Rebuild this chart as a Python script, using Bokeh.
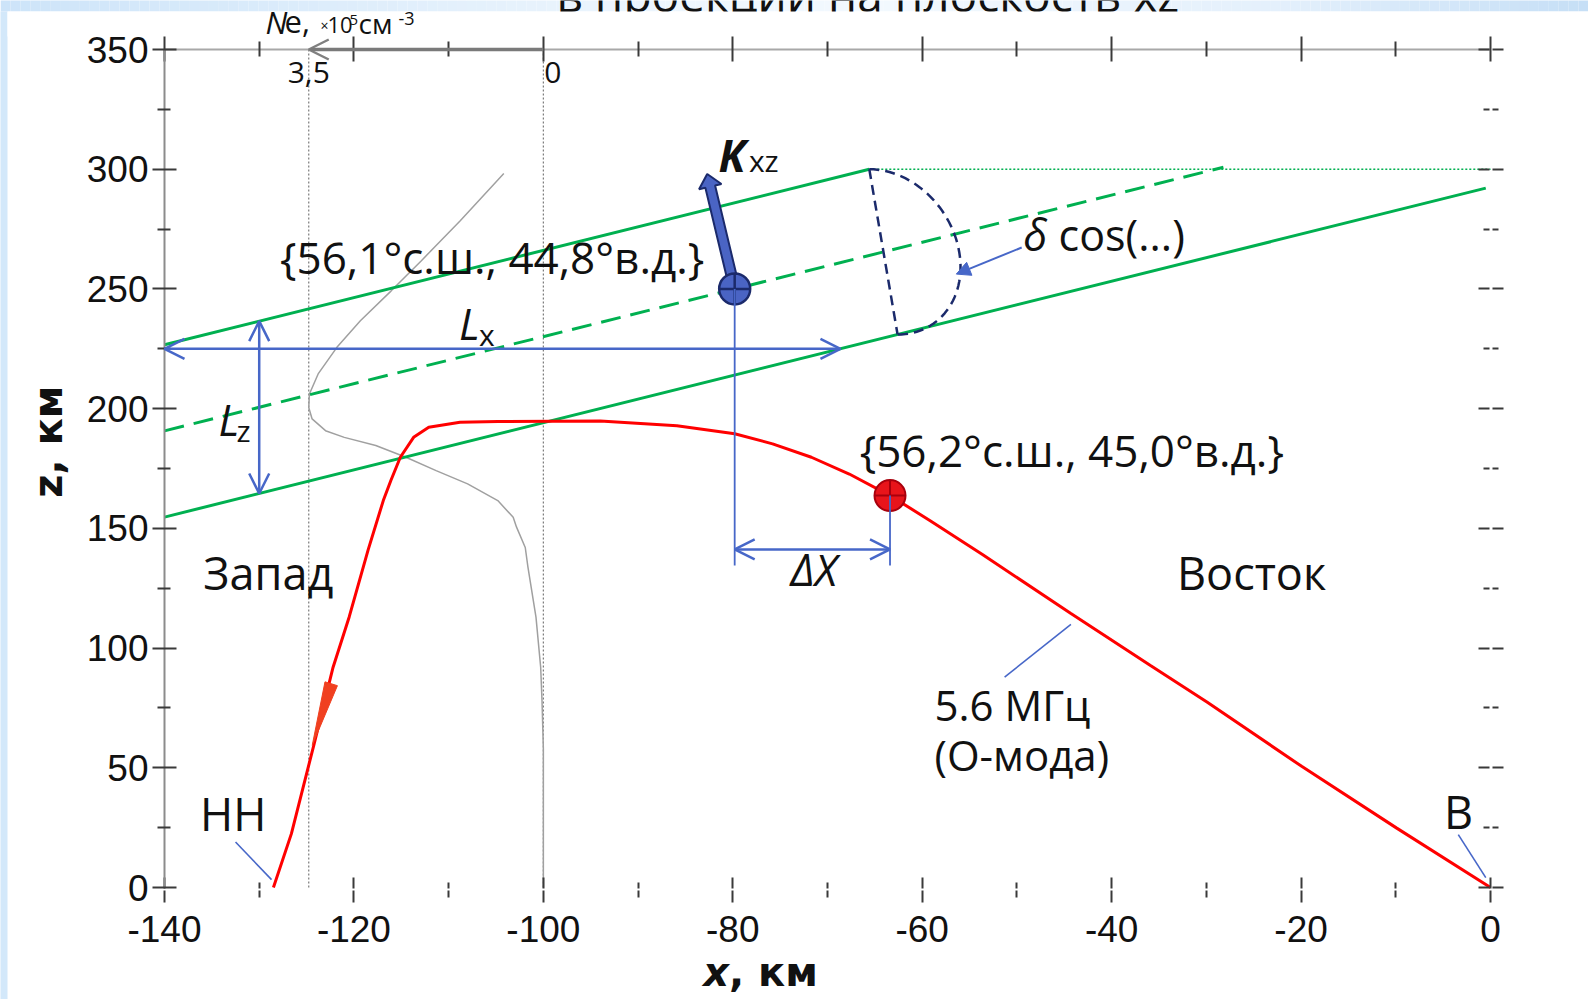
import math
from bokeh.plotting import figure
from bokeh.models import Range1d, LinearAxis, FixedTicker, Label, Arrow, OpenHead, NormalHead
from bokeh.embed import file_html
from bokeh.resources import INLINE

# ---------------- data ----------------
x_major = [-140, -120, -100, -80, -60, -40, -20, 0]
x_minor = [-130, -110, -90, -70, -50, -30, -10]
z_major = [0, 50, 100, 150, 200, 250, 300, 350]
z_minor = [25, 75, 125, 175, 225, 275, 325]
x_tick_text = {t: str(t) for t in x_major}

# ray trajectory, 5.6 MHz O-mode (x, z in km)
ray_x = [-128.5, -126.6, -124.2, -122.2, -120.5, -118.5, -116.9, -116.1, -115.1,
         -113.7, -112.1, -108.8, -104.8, -94.0, -85.9, -79.8, -75.8, -71.7,
         -67.7, -63.4, -59.2, -53.6, -44.3, -35.9, -29.9, -19.9, -9.9, 0.0]
ray_z = [0.0, 22.5, 60.0, 92.0, 113.0, 141.0, 161.6, 170.0, 179.7,
         188.0, 192.2, 194.3, 194.6, 194.8, 192.9, 189.5, 185.3, 179.7,
         172.7, 163.7, 153.3, 139.0, 114.4, 92.7, 77.4, 50.5, 24.8, 0.0]

# electron density profile: height (km) and Ne (x1e5 cm^-3)
ne_z = [298.2, 278.5, 261.8, 249.2, 236.7, 225.6, 214.5, 206.1, 200.5, 195.7,
        190.8, 188.0, 184.6, 179.7, 174.1, 168.6, 161.6, 154.6, 150.5, 142.0,
        133.8, 112.9, 92.0, 78.0, 58.0, 0.0]
ne_val = [0.59, 1.24, 1.82, 2.27, 2.73, 3.08, 3.36, 3.49, 3.50, 3.45,
          3.25, 2.97, 2.50, 2.05, 1.60, 1.13, 0.68, 0.45, 0.40, 0.27,
          0.23, 0.11, 0.04, 0.02, 0.0, 0.0]
ne_max = 3.5
ne_x_max = -124.77   # km position of Ne = 3.5
ne_x_zero = -100.0   # km position of Ne = 0

# tilted irregularity layer
point_a = (-79.8, 250.0)   # {56,1 N, 44,8 E}
point_b = (-63.4, 163.7)   # {56,2 N, 45,0 E}
layer_slope = 0.985
layer_half = 36.0
layer_top = 300.0
mid_end_x = -28.2
lower_end_x = -0.5
arc_foot_x = -62.6
arc_bulge = 8.0
kxz_tip = (-82.7, 298.0)

lx_z = 225.0
lz_x = -130.0
dx_z = 141.2
dx_drop = 134.5

ray_arrow_tip = (-124.4, 59.4)
ray_arrow_base = (-122.4, 85.1)

# ---------------- canvas geometry ----------------
W, H = 1588, 999
X0_PX, X1_PX = 164.0, 1490.0    # pixel columns of x = -140 and x = 0
Z0_PX, Z1_PX = 887.0, 49.0      # pixel rows of z = 0 and z = 350
SX = (X1_PX - X0_PX) / 140.0
SY = (Z0_PX - Z1_PX) / 350.0
XS = -140.0 - X0_PX / SX
XE = 0.0 + (W - X1_PX) / SX
YS = -(H - Z0_PX) / SY
YE = 350.0 + Z1_PX / SY
BAND_TOP = 11.0   # height of the slide band, px
BAND_LEFT = 7.0   # width of the slide band, px


def row_y(py):
    return YE - py / SY


def col_x(px):
    return XS + px / SX


def layer_z(x, off):
    return point_a[1] + off + layer_slope * (x - point_a[0])


def layer_x(z, off):
    return point_a[0] + (z - point_a[1] - off) / layer_slope


def arrow_poly(base, tip, shaft_hw, head_hw, head_len):
    bx, by = base[0] * SX, base[1] * SY
    tx, ty = tip[0] * SX, tip[1] * SY
    L = math.hypot(tx - bx, ty - by)
    ux, uy = (tx - bx) / L, (ty - by) / L
    nx, ny = -uy, ux
    hx, hy = tx - ux * head_len, ty - uy * head_len
    pts = [(bx + nx * shaft_hw, by + ny * shaft_hw), (hx + nx * shaft_hw, hy + ny * shaft_hw),
           (hx + nx * head_hw, hy + ny * head_hw), (tx, ty),
           (hx - nx * head_hw, hy - ny * head_hw), (hx - nx * shaft_hw, hy - ny * shaft_hw),
           (bx - nx * shaft_hw, by - ny * shaft_hw)]
    return [q[0] / SX for q in pts], [q[1] / SY for q in pts]


def triangle(tip, base, hw):
    tx, ty = tip[0] * SX, tip[1] * SY
    bx, by = base[0] * SX, base[1] * SY
    L = math.hypot(bx - tx, by - ty)
    nx, ny = -(by - ty) / L, (bx - tx) / L
    pts = [(tx, ty), (bx + nx * hw, by + ny * hw), (bx - nx * hw, by - ny * hw)]
    return [q[0] / SX for q in pts], [q[1] / SY for q in pts]


def mix(stops, t):
    for (t0, c0), (t1, c1) in zip(stops[:-1], stops[1:]):
        if t0 <= t <= t1:
            f = (t - t0) / (t1 - t0)
            return "#%02x%02x%02x" % tuple(int(round(c0[i] + (c1[i] - c0[i]) * f)) for i in range(3))
    return "#%02x%02x%02x" % stops[-1][1]


BLUE = "#4767c8"
NAVY = "#1b2a6b"
GREEN = "#00b050"
RED = "#ff0000"
INK = "#111111"
TICK = "#3a3a3a"
FONT = "Open Sans"

p = figure(width=W, height=H, x_range=Range1d(XS, XE), y_range=Range1d(YS, YE),
           output_backend="svg", toolbar_location=None, min_border=0)
p.title.visible = False
p.grid.visible = False
p.outline_line_color = None
p.background_fill_color = "white"
p.border_fill_color = "white"

# ---------------- slide bands ----------------
stops = [(0.0, (205, 228, 249)), (0.4, (236, 245, 253)), (0.55, (243, 249, 254)),
         (0.8, (228, 240, 252)), (1.0, (198, 223, 246))]
n = 160
edges = [XS + (XE - XS) * i / n for i in range(n + 1)]
p.quad(left=edges[:-1], right=edges[1:], top=YE + 1, bottom=row_y(BAND_TOP),
       fill_color=[mix(stops, (i + 0.5) / n) for i in range(n)], line_color=None, level="image")
p.quad(left=[XS - 1], right=[col_x(BAND_LEFT)], top=[row_y(BAND_TOP)], bottom=[YS - 1],
       fill_color="#d3e8fa", line_color=None, level="image")

# label helper: y is the wanted baseline, shifted for the renderer's baseline offset
BASE_SHIFT = 0.375


def label(x, y, text, size, style="normal", align="left", font=FONT, angle=0.0, level="annotation"):
    if angle == 0.0:
        y = y + BASE_SHIFT * size / SY
    else:
        x = x - BASE_SHIFT * size / SX
    p.add_layout(Label(x=x, y=y, text=text, text_font=font, text_font_size=f"{size}px",
                       text_font_style=style, text_align=align, text_baseline="alphabetic",
                       text_color=INK, angle=angle, level=level))


# slide heading, partly hidden under the chart panel
label(col_x(556), row_y(11), "в проекции на плоскость xz", 46, level="underlay")
p.quad(left=[col_x(BAND_LEFT)], right=[XE + 1], top=[row_y(BAND_TOP)], bottom=[row_y(36)],
       fill_color="white", line_color=None)

# ---------------- axes ----------------
xa = p.xaxis[0]
xa.fixed_location = 0
xa.bounds = (-140, 0)
xa.ticker = FixedTicker(ticks=x_major, minor_ticks=x_minor)
xa.major_label_overrides = x_tick_text
xa.axis_line_color = None
xa.major_tick_in, xa.major_tick_out = 10, 15
xa.minor_tick_in, xa.minor_tick_out = 5, 10
xa.major_tick_line_color = TICK
xa.minor_tick_line_color = TICK
xa.major_tick_line_width = 2
xa.minor_tick_line_width = 2
xa.major_tick_line_dash = "12 2"
xa.minor_tick_line_dash = "7 2"
xa.major_label_text_font = "Liberation Sans"
xa.major_label_text_font_size = "37px"
xa.major_label_text_color = INK
xa.major_label_standoff = 13

ya = p.yaxis[0]
ya.fixed_location = -140
ya.bounds = (0, 350)
ya.ticker = FixedTicker(ticks=z_major, minor_ticks=z_minor)
ya.axis_line_color = "#8c8c8c"
ya.axis_line_width = 2
ya.major_tick_in, ya.major_tick_out = 12, 12
ya.minor_tick_in, ya.minor_tick_out = 6, 7
ya.major_tick_line_color = TICK
ya.minor_tick_line_color = TICK
ya.major_tick_line_width = 2
ya.minor_tick_line_width = 2
ya.major_label_text_font = "Liberation Sans"
ya.major_label_text_font_size = "37px"
ya.major_label_text_color = INK
ya.major_label_standoff = 4

top_ax = LinearAxis(fixed_location=350, bounds=(-140, 0),
                    ticker=FixedTicker(ticks=x_major, minor_ticks=x_minor),
                    major_label_overrides={t: "" for t in x_major},
                    major_label_text_font_size="6px", major_label_standoff=0,
                    axis_line_color="#a8a8a8", axis_line_width=2,
                    major_tick_in=12, major_tick_out=13, minor_tick_in=7, minor_tick_out=8,
                    major_tick_line_color=TICK, minor_tick_line_color=TICK,
                    major_tick_line_width=2, minor_tick_line_width=2)
p.add_layout(top_ax, "above")

right_ax = LinearAxis(fixed_location=0, bounds=(0, 350),
                      ticker=FixedTicker(ticks=z_major, minor_ticks=z_minor),
                      major_label_overrides={t: "" for t in z_major},
                      major_label_text_font_size="6px", major_label_standoff=0,
                      axis_line_color=None,
                      major_tick_in=12, major_tick_out=13, minor_tick_in=7, minor_tick_out=8,
                      major_tick_line_color=TICK, minor_tick_line_color=TICK,
                      major_tick_line_width=2, minor_tick_line_width=2,
                      major_tick_line_dash="11 3", minor_tick_line_dash="6 3")
p.add_layout(right_ax, "right")

# ---------------- chart content ----------------
# dotted guides of the Ne scale
p.segment(x0=[ne_x_max, ne_x_zero], y0=[0, 0], x1=[ne_x_max, ne_x_zero], y1=[350, 350],
          line_color="#7a7a7a", line_width=1.2, line_dash="2 2")

# Ne profile drawn against the Ne scale of the top axis
ne_x = [ne_x_zero + (ne_x_max - ne_x_zero) * v / ne_max for v in ne_val]
p.line(ne_x, ne_z, line_color="#a0a0a0", line_width=1.5)

# layer boundaries
up_end = layer_x(layer_top, layer_half)
p.line([-140, up_end], [layer_z(-140, layer_half), layer_top], line_color=GREEN, line_width=3)
p.line([-140, mid_end_x], [layer_z(-140, 0.0), layer_z(mid_end_x, 0.0)], line_color=GREEN,
       line_width=3, line_dash="20 10")
p.line([-140, lower_end_x], [layer_z(-140, -layer_half), layer_z(lower_end_x, -layer_half)],
       line_color=GREEN, line_width=3)
p.line([up_end, 0], [layer_top, layer_top], line_color=GREEN, line_width=1.5, line_dash="2 2")

# cross-section arc
p1 = (up_end, layer_top)
p2 = (arc_foot_x, layer_z(arc_foot_x, -layer_half))
cx, cz = (p1[0] + p2[0]) / 2, (p1[1] + p2[1]) / 2
ts = [math.pi * i / 60 for i in range(61)]
arc_x = [cx + math.cos(t) * (p1[0] - cx) + math.sin(t) * arc_bulge for t in ts]
arc_z = [cz + math.cos(t) * (p1[1] - cz) for t in ts]
p.line([p1[0], p2[0]], [p1[1], p2[1]], line_color=NAVY, line_width=2.5, line_dash="10 6")
p.line(arc_x, arc_z, line_color=NAVY, line_width=2.5, line_dash="10 6")

# ray path
p.line(ray_x, ray_z, line_color=RED, line_width=3)
tx, tz = triangle(ray_arrow_tip, ray_arrow_base, 6.5)
p.patch(tx, tz, fill_color="#f04020", line_color="#f04020", line_width=1)

# K_xz vector
kx, kz = arrow_poly(point_a, kxz_tip, 5, 11.5, 13)
p.patch(kx, kz, fill_color="#4a64c4", line_color=NAVY, line_width=2)

# points
p.scatter([point_b[0]], [point_b[1]], marker="circle_cross", size=31,
          fill_color="#e8141a", line_color="#a8000c", line_width=2)
p.scatter([point_a[0]], [point_a[1]], marker="circle_cross", size=31,
          fill_color="#4a64c4", line_color=NAVY, line_width=2.5)

# projection lines for ΔX
p.segment(x0=[point_a[0], point_b[0]], y0=[point_a[1], point_b[1]],
          x1=[point_a[0], point_b[0]], y1=[dx_drop, dx_drop], line_color=BLUE, line_width=1.8)

# leader lines
p.segment(x0=[-132.5, -3.4, -51.3], y0=[19.0, 22.1, 87.9],
          x1=[-128.7, -0.5, -44.3], y1=[3.3, 4.1, 109.9], line_color=BLUE, line_width=1.6)


def dbl_arrow(x0, y0, x1, y1):
    p.add_layout(Arrow(x_start=x0, y_start=y0, x_end=x1, y_end=y1,
                       start=OpenHead(size=20, line_color=BLUE, line_width=2.5),
                       end=OpenHead(size=20, line_color=BLUE, line_width=2.5),
                       line_color=BLUE, line_width=2.5))


dbl_arrow(-140, lx_z, layer_x(lx_z, -layer_half), lx_z)
dbl_arrow(lz_x, layer_z(lz_x, -layer_half), lz_x, layer_z(lz_x, layer_half))
dbl_arrow(point_a[0], dx_z, point_b[0], dx_z)

p.add_layout(Arrow(x_start=-49.5, y_start=267.3, x_end=-56.4, y_end=256.2,
                   end=NormalHead(size=14, fill_color=BLUE, line_color=BLUE),
                   line_color=BLUE, line_width=2))

# Ne scale on the top axis
p.add_layout(Arrow(x_start=ne_x_zero, y_start=350, x_end=ne_x_max, y_end=350,
                   end=OpenHead(size=20, line_color="#808080", line_width=2.5),
                   line_color="#7a7a7a", line_width=3.5))

# ---------------- texts ----------------
label(col_x(265), row_y(33), "N", 31, "italic")
label(col_x(284), row_y(33), "e,", 31)
label(col_x(320), row_y(30), "×", 14)
label(col_x(327), row_y(33), "10", 22)
label(col_x(349), row_y(25), "5", 15)
label(col_x(358), row_y(33), "см", 28)
label(col_x(398), row_y(25), "-3", 18)
label(ne_x_max, 335.5, "3,5", 30, align="center")
label(-99.0, 335.5, "0", 30, align="center")

label(-127.8, 256.3, "{56,1°с.ш., 44,8°в.д.}", 44)
label(-66.6, 176.0, "{56,2°с.ш., 45,0°в.д.}", 44)
label(-49.3, 266.0, "δ", 43, "italic")
label(-45.6, 266.0, "cos(...)", 43)
label(-135.9, 124.4, "Запад", 45)
label(-33.1, 124.4, "Восток", 45)
label(-136.25, 23.7, "НН", 45)
label(-4.9, 24.9, "В", 45)
label(-58.7, 69.8, "5.6 МГц", 42)
label(-58.7, 49.1, "(О-мода)", 42)
label(-73.9, 126.1, "ΔX", 43, "italic")
label(-108.9, 228.9, "L", 43, "italic")
label(-106.8, 226.3, "x", 30)
label(-134.3, 188.7, "L", 43, "italic")
label(-132.4, 186.3, "z", 30)
label(-81.5, 298.9, "K", 44, "bold italic")
label(-78.3, 298.9, "xz", 30)

# axis titles
label(-80.4, -41.7, "x", 40, "bold italic", align="right", font="DejaVu Sans")
label(-80.4, -41.7, ", км", 40, "bold", align="left", font="DejaVu Sans")
label(-150.7, 172.5, "z", 40, "bold", align="right", font="DejaVu Sans", angle=math.pi / 2)
label(-150.7, 172.5, ", км", 40, "bold", align="left", font="DejaVu Sans", angle=math.pi / 2)

open("out.html", "w").write(file_html(p, INLINE))
